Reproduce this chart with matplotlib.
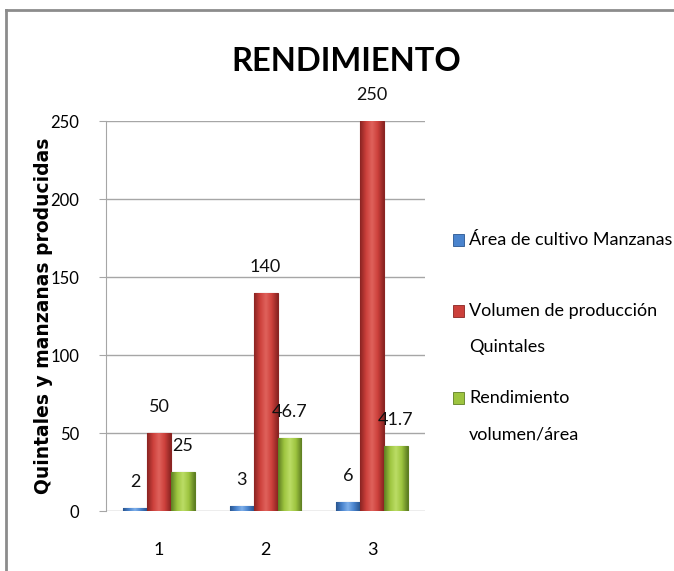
import matplotlib.pyplot as plt
import numpy as np
from matplotlib.lines import Line2D
from matplotlib.patches import Rectangle
from matplotlib.colors import LinearSegmentedColormap

plt.rcParams['font.family'] = ['Lato', 'DejaVu Sans']

categories = ['1', '2', '3']
area = [2, 3, 6]
volumen = [50, 140, 250]
rendimiento = [25, 46.7, 41.7]
area_lbl = ['2', '3', '6']
volumen_lbl = ['50', '140', '250']
rend_lbl = ['25', '46.7', '41.7']
series_names = ['Área de cultivo Manzanas', 'Volumen de producción\nQuintales',
                'Rendimiento\nvolumen/área']
colors = ['#4A84CE', '#CC403B', '#9DC43F']
lights = ['#7FB0EA', '#E0625C', '#BCDD66']
edges = ['#2A5690', '#8A2422', '#5E7E22']

fig = plt.figure(figsize=(6.74, 5.71), dpi=100)
ax = fig.add_axes([0.157, 0.105, 0.474, 0.683])

x = np.arange(1, 4)
w = 0.225
grad = np.linspace(0, 1, 64).reshape(1, -1)
for i, (vals, lbls) in enumerate([(area, area_lbl), (volumen, volumen_lbl), (rendimiento, rend_lbl)]):
    pos = x + (i - 1) * w
    cmap = LinearSegmentedColormap.from_list('b%d' % i, [edges[i], colors[i], lights[i], colors[i], edges[i]])
    bars = ax.bar(pos, vals, w, color=colors[i], edgecolor=edges[i], linewidth=0.8, zorder=3)
    for b, t in zip(bars, lbls):
        x0, h = b.get_x(), b.get_height()
        im = ax.imshow(grad, cmap=cmap, aspect='auto', extent=(x0, x0 + w, 0, h),
                       zorder=3.5, interpolation='bilinear')
        im.set_clip_path(b)
        ax.annotate(t, (x0 + w / 2, h), xytext=(0, 13), textcoords='offset points',
                    ha='center', va='bottom', fontsize=13, color='#111111', zorder=6)

ax.set_xlim(0.5, 3.5)
ax.set_ylim(0, 250)
ax.set_yticks([0, 50, 100, 150, 200, 250])
ax.set_xticks(x)
ax.set_xticklabels(categories)
ax.grid(axis='y', color='#A6A6A6', linewidth=1, zorder=0)
for s in ['top', 'right', 'bottom']:
    ax.spines[s].set_visible(False)
ax.spines['left'].set_color('#A6A6A6')
ax.tick_params(axis='y', length=5, color='#A6A6A6', labelsize=12, pad=14)
ax.tick_params(axis='x', length=0, labelsize=13, pad=22)
ax.set_ylabel('Quintales y manzanas producidas', family='DejaVu Sans',
              fontweight='bold', fontsize=13.5, labelpad=-2)

fig.text(0.513, 0.893, 'RENDIMIENTO', ha='center', va='center',
         fontsize=23.5, fontweight='bold')

# manual legend, marker aligned with the first line
H = 571.0
first_line = [240, 311, 398]
for c, e, name, yp in zip(colors, edges, series_names, first_line):
    fig.patches.append(Rectangle((453 / 674, 1 - (yp + 6) / H), 11 / 674, 12 / H,
                                 transform=fig.transFigure, facecolor=c, edgecolor=e, linewidth=0.6))
    for k, line in enumerate(name.split('\n')):
        fig.text(469 / 674, 1 - (yp + 36 * k) / H, line, ha='left', va='center', fontsize=13)

# outer border
fig.add_artist(Line2D([0.009, 0.009], [0, 0.982], transform=fig.transFigure, color='#8C8C8C', lw=2))
fig.add_artist(Line2D([0.009, 1], [0.982, 0.982], transform=fig.transFigure, color='#8C8C8C', lw=2))

fig.savefig('out.png', dpi=100)
